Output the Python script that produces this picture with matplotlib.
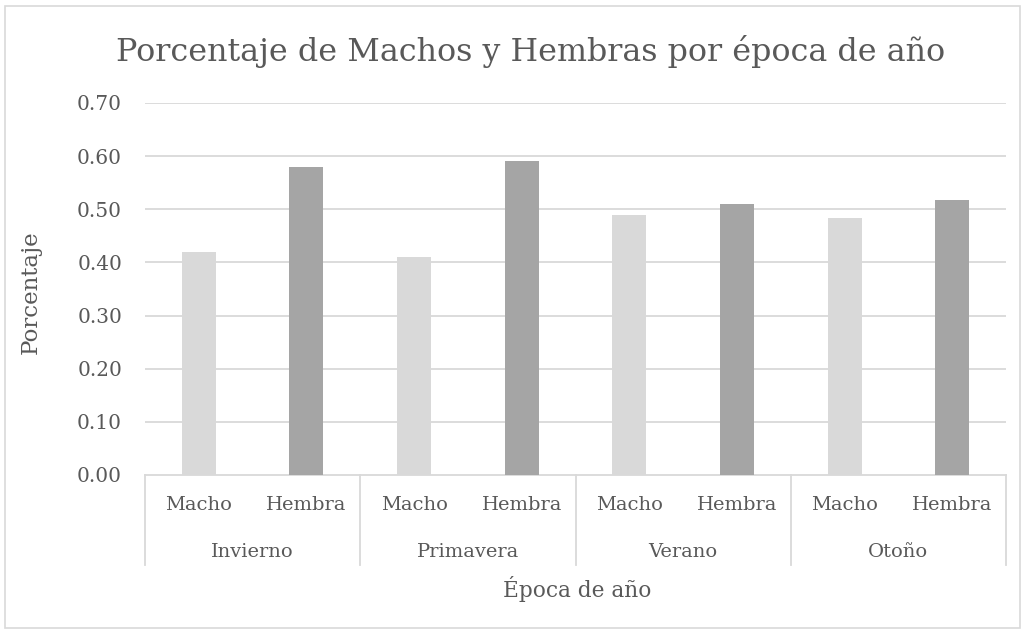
import matplotlib
matplotlib.use("Agg")
import matplotlib.pyplot as plt
import matplotlib.transforms as mtrans
from matplotlib.patches import Rectangle

seasons = ["Invierno", "Primavera", "Verano", "Otoño"]
sexes = ["Macho", "Hembra"]
values = [0.42, 0.58, 0.41, 0.59, 0.49, 0.51, 0.483, 0.517]
colors_by_sex = {"Macho": "#D9D9D9", "Hembra": "#A5A5A5"}
yticks = [0.0, 0.1, 0.2, 0.3, 0.4, 0.5, 0.6, 0.7]

TXT = "#595959"
GRID = "#D9D9D9"
FONT = "DejaVu Serif"
plt.rcParams['font.family'] = FONT

fig = plt.figure(figsize=(10.25, 6.34), dpi=100)
fig.patches.append(Rectangle((5/1025, 1-628/634), 1015/1025, 622/634, transform=fig.transFigure,
                             fill=False, edgecolor=GRID, linewidth=1.2))
ax = fig.add_axes([145/1025, 1-475/634, 861/1025, 372/634])

n = len(values)
xs = list(range(n))
labels = [sexes[i % 2] for i in range(n)]
cols = [colors_by_sex[l] for l in labels]
ax.bar(xs, values, width=0.316, color=cols, zorder=3)
ax.set_xlim(-0.5, n - 0.5)
ax.set_ylim(0, 0.70)
ax.set_yticks(yticks)
ax.set_yticklabels([f"{t:.2f}" for t in yticks], color=TXT, fontsize=14.5)
ax.tick_params(axis='y', length=0, pad=16.5)
ax.set_xticks([])
for s in ax.spines.values():
    s.set_visible(False)
for t in yticks[1:]:
    ax.axhline(t, color=GRID, lw=1.3, zorder=1)

trans = mtrans.blended_transform_factory(ax.transData, ax.transAxes)
ax.plot([-0.5, n - 0.5], [0, 0], color=GRID, lw=1.3, transform=trans, clip_on=False, zorder=2)
for b in range(len(seasons) + 1):
    xb = -0.5 + 2 * b
    ax.plot([xb, xb], [0, -0.242], color=GRID, lw=1.3, transform=trans, clip_on=False)
for i, l in enumerate(labels):
    ax.text(xs[i], -0.081, l, transform=trans, ha='center', va='center', color=TXT, fontsize=14)
for g, s in enumerate(seasons):
    ax.text(2 * g + 0.5, -0.208, s, transform=trans, ha='center', va='center', color=TXT, fontsize=14)

fig.text(577/1025, 1-589/634, "Época de año", ha='center', va='center', color=TXT, fontsize=15.6)
fig.text(31/1025, 1-292/634, "Porcentaje", ha='center', va='center', rotation=90, color=TXT, fontsize=16.5)
fig.text(531/1025, 1-52/634, "Porcentaje de Machos y Hembras por época de año", ha='center', va='center',
         color=TXT, fontsize=22.9)

fig.savefig("out.png", dpi=100)
